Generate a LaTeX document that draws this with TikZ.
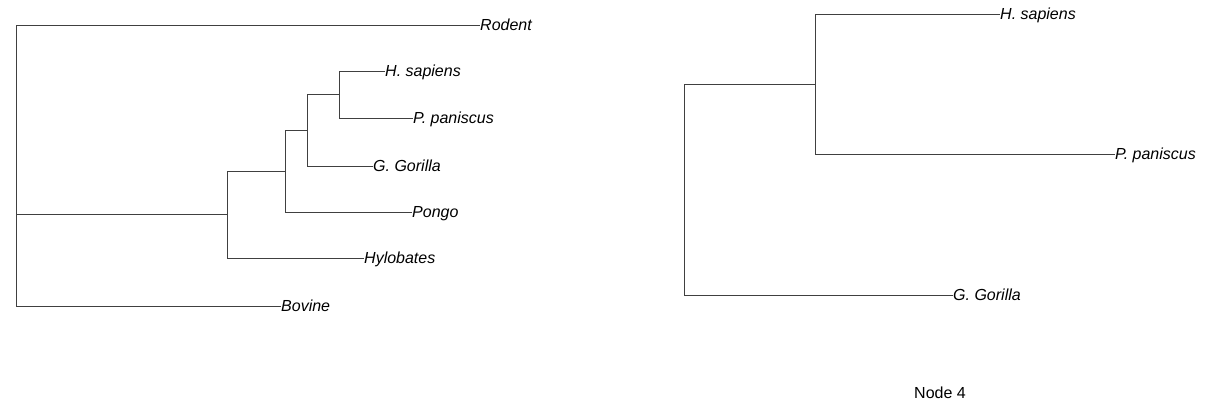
\documentclass[tikz,border=0pt]{standalone}
\usepackage{fontspec}
\setmainfont{Liberation Sans}
\tikzset{
  leaf/.style={anchor=west, inner sep=0pt, text height=12pt, text depth=0pt, font=\fontsize{16}{19}\selectfont\itshape},
  branch/.style={line width=0.8pt, black!75}
}
\begin{document}
\begin{tikzpicture}[x=1pt,y=-1pt]
  \useasboundingbox (0,0) rectangle (1210,411);
  % left tree
  \coordinate (n0) at (16,214);
  \coordinate (n1) at (227,214);
  \coordinate (n2) at (285,171);
  \coordinate (n3) at (307,130);
  \coordinate (n4) at (339,94);
  \node[leaf] (rodent) at (480,25) {Rodent};
  \node[leaf] (hsap) at (385,71) {H. sapiens};
  \node[leaf] (ppan) at (413,118) {P. paniscus};
  \node[leaf] (ggor) at (373,166) {G. Gorilla};
  \node[leaf] (pongo) at (412,212) {Pongo};
  \node[leaf] (hylo) at (364,258) {Hylobates};
  \node[leaf] (bovine) at (281,306) {Bovine};
  \draw[branch] (n0) |- (rodent.west);
  \draw[branch] (n0) |- (bovine.west);
  \draw[branch] (n0) -- (n1);
  \draw[branch] (n1) |- (n2);
  \draw[branch] (n1) |- (hylo.west);
  \draw[branch] (n2) |- (n3);
  \draw[branch] (n2) |- (pongo.west);
  \draw[branch] (n3) |- (n4);
  \draw[branch] (n3) |- (ggor.west);
  \draw[branch] (n4) |- (hsap.west);
  \draw[branch] (n4) |- (ppan.west);
  % right tree
  \coordinate (m0) at (684,190);
  \coordinate (m1) at (815,84);
  \node[leaf] (hsapr) at (1000,14) {H. sapiens};
  \node[leaf] (ppanr) at (1115,154) {P. paniscus};
  \node[leaf] (ggorr) at (953,295) {G. Gorilla};
  \draw[branch] (m0) |- (m1);
  \draw[branch] (m0) |- (ggorr.west);
  \draw[branch] (m1) |- (hsapr.west);
  \draw[branch] (m1) |- (ppanr.west);
  \node[font=\fontsize{16}{19}\selectfont] (title) at (940,393) {Node 4};
\end{tikzpicture}
\end{document}
